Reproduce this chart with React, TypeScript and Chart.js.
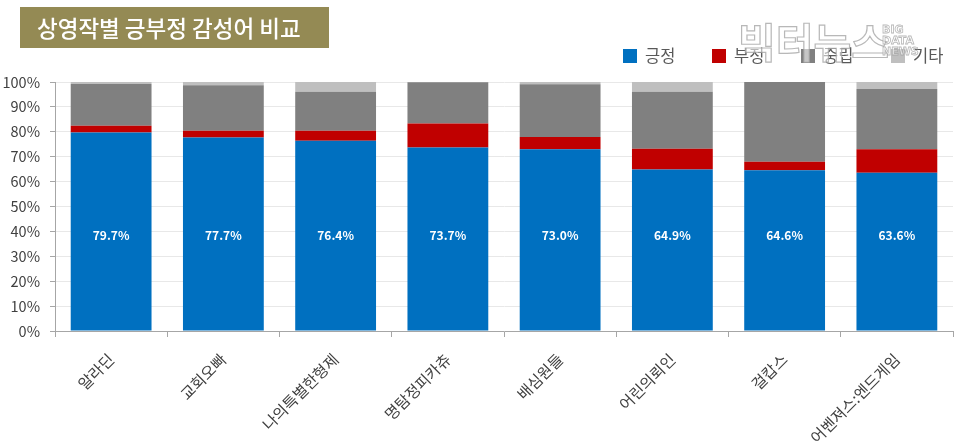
import React, { useEffect, useRef } from "react";
import { Chart, registerables } from "chart.js";

Chart.register(...registerables);

const categories = ["알라딘", "교회오빠", "나의특별한형제", "명탐정피카츄", "배심원들", "어린의뢰인", "걸캅스", "어벤져스:엔드게임"];
const positive = [79.7, 77.7, 76.4, 73.7, 73.0, 64.9, 64.6, 63.6];
const negative = [2.7, 2.7, 4.0, 9.6, 4.9, 8.3, 3.4, 9.4];
const neutral = [16.8, 18.3, 15.7, 16.6, 21.2, 22.9, 32.0, 24.2];
const other = [0.8, 1.3, 3.9, 0.1, 0.9, 3.9, 0.0, 2.8];
const seriesNames = ["긍정", "부정", "중립", "기타"];
const seriesColors = ["#0070C0", "#C00000", "#808080", "#BFBFBF"];
const titleText = "상영작별 긍부정 감성어 비교";
const labelLevel = 38.5;

const FONT = "'Noto Sans CJK KR', 'Noto Sans', sans-serif";

const overlayPlugin = {
  id: "overlay",
  afterDatasetsDraw(chart: any) {
    const ctx = chart.ctx;
    const meta = chart.getDatasetMeta(0);
    const y = chart.scales.y.getPixelForValue(labelLevel);
    ctx.save();
    ctx.fillStyle = "#ffffff";
    ctx.font = `bold 12px ${FONT}`;
    ctx.textAlign = "center";
    ctx.textBaseline = "middle";
    meta.data.forEach((bar: any, i: number) => {
      ctx.fillText(positive[i].toFixed(1) + "%", bar.x, y);
    });
    ctx.restore();
  },
  afterDraw(chart: any) {
    const ctx = chart.ctx;
    ctx.save();
    // title box
    ctx.fillStyle = "#948A54";
    ctx.fillRect(20, 7, 309, 41);
    ctx.fillStyle = "#ffffff";
    ctx.font = `500 22.5px ${FONT}`;
    ctx.textAlign = "left";
    ctx.textBaseline = "middle";
    ctx.fillText(titleText, 37, 28);

    // legend
    const boxXs = [623, 712, 801, 891];
    ctx.font = `16.5px ${FONT}`;
    seriesNames.forEach((name, i) => {
      ctx.fillStyle = seriesColors[i];
      ctx.fillRect(boxXs[i], 49, 14, 14);
      ctx.fillStyle = "#595959";
      ctx.fillText(name, boxXs[i] + 22, 56);
    });

    // watermark
    ctx.font = `bold 41px ${FONT}`;
    ctx.lineWidth = 1.2;
    ctx.strokeStyle = "rgba(160,160,160,0.75)";
    ctx.fillStyle = "rgba(255,255,255,0.55)";
    ctx.textBaseline = "middle";
    ctx.fillText("빅터뉴스", 738, 42);
    ctx.strokeText("빅터뉴스", 738, 42);
    ctx.font = `bold 11px 'DejaVu Sans', sans-serif`;
    ctx.lineWidth = 0.8;
    ["BIG", "DATA", "NEWS"].forEach((t, i) => {
      ctx.fillText(t, 882, 30 + i * 11);
      ctx.strokeText(t, 882, 30 + i * 11);
    });
    ctx.restore();
  },
};

export default function App() {
  const ref = useRef<HTMLCanvasElement>(null);
  useEffect(() => {
    document.body.style.margin = "0";
    const datasets = [positive, negative, neutral, other].map((d, i) => ({
      label: seriesNames[i],
      data: d,
      backgroundColor: seriesColors[i],
      borderWidth: 0,
      barPercentage: 0.72,
      categoryPercentage: 1,
    }));
    const chart = new Chart(ref.current as HTMLCanvasElement, {
      type: "bar",
      data: { labels: categories, datasets },
      options: {
        responsive: false,
        animation: false,
        layout: { padding: { top: 82, right: 7, left: 0, bottom: 0 } },
        plugins: { legend: { display: false }, tooltip: { enabled: false } },
        scales: {
          x: {
            stacked: true,
            afterFit: (s: any) => { s.height = 116; },
            border: { color: "#a6a6a6", width: 1 },
            grid: { drawOnChartArea: false, drawTicks: true, tickLength: 6, tickColor: "#a6a6a6", offset: true },
            ticks: {
              color: "#404040",
              font: { family: FONT, size: 15.5 },
              maxRotation: 45,
              minRotation: 45,
              padding: 13,
              autoSkip: false,
            },
          },
          y: {
            stacked: true,
            min: 0,
            max: 100,
            afterFit: (s: any) => { s.width = 55; },
            border: { color: "#a6a6a6", width: 1 },
            grid: { color: "#e8e8e8", drawTicks: true, tickLength: 5, tickColor: "#a6a6a6" },
            ticks: {
              stepSize: 10,
              color: "#404040",
              font: { family: FONT, size: 14.5 },
              padding: 10,
              callback: (v: any) => v + "%",
            },
          },
        },
      },
      plugins: [overlayPlugin],
    });
    return () => chart.destroy();
  }, []);
  return (
    <div style={{ width: 960, height: 447, position: "relative" }}>
      <canvas ref={ref} width={960} height={447} style={{ display: "block", width: 960, height: 447 }} />
    </div>
  );
}
